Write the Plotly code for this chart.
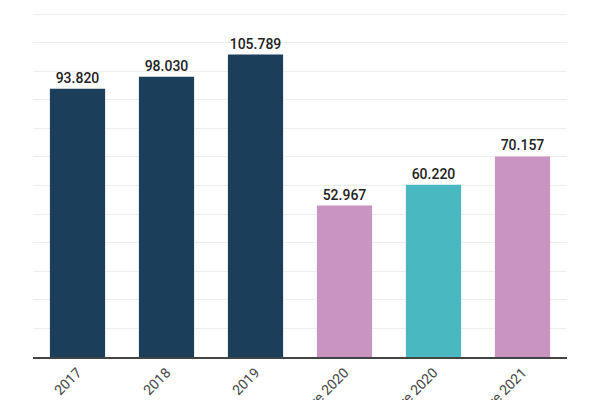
"""
Grafico a barre: valori per periodo (2017-2021)
"""

import plotly.graph_objects as go

# Dati
periodi = ['2017', '2018', '2019',
           'Gennaio-Settembre 2020', 'Ottobre-Dicembre 2020', 'Gennaio-Settembre 2021']
valori = [93820, 98030, 105789, 52967, 60220, 70157]
colori = ['#1b3f5b', '#1b3f5b', '#1b3f5b', '#c994c0', '#4ab8c1', '#c994c0']

fig = go.Figure()

fig.add_trace(
    go.Bar(x=periodi, y=valori,
           marker=dict(color=colori, line=dict(width=0)),
           texttemplate='%{y:,d}', textposition='outside',
           textfont=dict(family='Roboto', size=14, color='#222222', weight=500),
           cliponaxis=False)
)

# la pagina ha 8px di margine sul body: compensato nei margini
fig.update_layout(
    width=600, height=400,
    margin=dict(l=25, r=41, t=0, b=51),
    paper_bgcolor='white', plot_bgcolor='white',
    separators=',.',
    bargap=0.38,
    showlegend=False,
    font=dict(family='Roboto', size=14, color='#444444')
)

fig.update_xaxes(tickangle=-45, automargin=False,
                 showline=True, linecolor='#444444', linewidth=2,
                 ticks='', tickfont=dict(size=14, color='#444444'))
fig.update_yaxes(range=[0, 122100], dtick=10000, showticklabels=False,
                 gridcolor='#eeeeee', gridwidth=1, zeroline=False,
                 automargin=False)

fig.write_html("out.html")
